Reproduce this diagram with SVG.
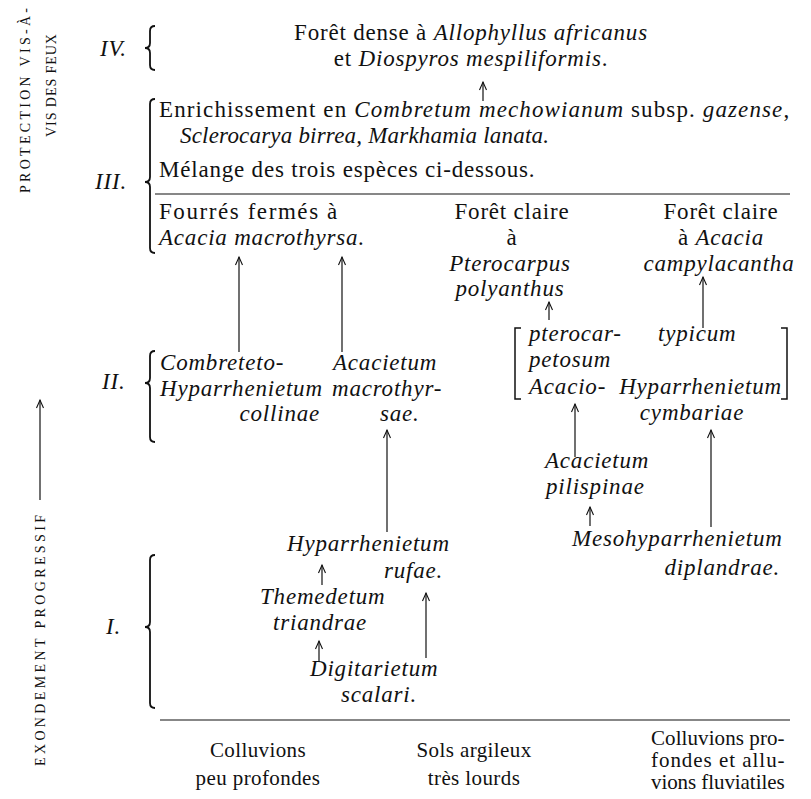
<svg xmlns="http://www.w3.org/2000/svg" width="811" height="799" viewBox="0 0 811 799">
<defs>
<style>
text{font-family:"Liberation Serif","Times New Roman",serif;font-size:23px;fill:#111111;letter-spacing:0.8px}
.i{font-style:italic}
.c{text-anchor:middle}
.e{text-anchor:end}
.side{font-size:14px;letter-spacing:1px}
.soil{font-size:21px;letter-spacing:0.4px}
.ln{stroke:#111111;stroke-width:1.2;fill:none}
.br{stroke:#111111;stroke-width:1.8;fill:none}
.bk{stroke:#111111;stroke-width:1.5;fill:none}
</style>
<marker id="ah" markerUnits="userSpaceOnUse" markerWidth="12" markerHeight="12" viewBox="-10 -6 12 12" refX="0" refY="0" orient="auto">
<path d="M-8,-3.5 L0,0 L-8,3.5" fill="none" stroke="#111111" stroke-width="1.1"/>
</marker>
</defs>
<rect width="811" height="799" fill="#ffffff"/>

<g id="side-labels">
<text class="side c" transform="translate(30,100) rotate(-90)" textLength="186" lengthAdjust="spacing">PROTECTION VIS-À-</text>
<text class="side c" transform="translate(56,85) rotate(-90)" textLength="104" lengthAdjust="spacing">VIS DES FEUX</text>
<text class="side c" transform="translate(45,640) rotate(-90)" textLength="252" lengthAdjust="spacing">EXONDEMENT PROGRESSIF</text>
</g>

<g id="levels">
<text class="i" x="100" y="56">IV.</text>
<text class="i" x="95" y="189">III.</text>
<text class="i" x="102" y="389">II.</text>
<text class="i" x="106" y="634">I.</text>
<path class="br" d="M155,26 Q150,26 150,31 L150,43 Q150,48 145,48 Q150,48 150,53 L150,65 Q150,70 155,70"/>
<path class="br" d="M155,99 Q150,99 150,104 L150,177 Q150,182 145,182 Q150,182 150,187 L150,248 Q150,253 155,253"/>
<path class="br" d="M155,351 Q150,351 150,356 L150,378 Q150,383 145,383 Q150,383 150,388 L150,437 Q150,442 155,442"/>
<path class="br" d="M155,555 Q150,555 150,560 L150,622 Q150,627 145,627 Q150,627 150,632 L150,703 Q150,708 155,708"/>
</g>

<g id="rules">
<line class="ln" x1="155" y1="194" x2="790" y2="194"/>
<line class="ln" x1="160" y1="720" x2="790" y2="720"/>
</g>

<g id="n-foret-dense">
<text class="c" x="471" y="40">Forêt dense à <tspan class="i">Allophyllus africanus</tspan></text>
<text class="c" x="471" y="66">et <tspan class="i">Diospyros mespiliformis</tspan>.</text>
</g>

<g id="n-enrichissement">
<text x="159" y="117" textLength="631" lengthAdjust="spacing">Enrichissement en <tspan class="i">Combretum mechowianum</tspan> subsp. <tspan class="i">gazense</tspan>,</text>
<text class="i" x="180" y="143" style="letter-spacing:0.2px">Sclerocarya birrea,  Markhamia lanata.</text>
<text x="159" y="177">Mélange des trois espèces ci-dessous.</text>
</g>

<g id="n-fourres">
<text x="159" y="219" textLength="179" lengthAdjust="spacing">Fourrés fermés à</text>
<text class="i" x="159" y="245">Acacia macrothyrsa.</text>
</g>

<g id="n-pterocarpus">
<text class="c" x="512" y="219">Forêt claire</text>
<text class="c" x="512" y="245">à</text>
<text class="c i" x="510" y="271">Pterocarpus</text>
<text class="c i" x="510" y="296">polyanthus</text>
</g>

<g id="n-campylacantha">
<text class="c" x="721" y="219">Forêt claire</text>
<text class="c" x="721" y="245">à <tspan class="i">Acacia</tspan></text>
<text class="c i" x="719" y="271">campylacantha</text>
</g>

<g id="n-combreteto">
<text class="i" x="160" y="370">Combreteto-</text>
<text class="i" x="160" y="396">Hyparrhenietum</text>
<text class="i e" x="320" y="421">collinae</text>
</g>

<g id="n-acacietum-macrothyrsae">
<text class="i" x="333" y="370">Acacietum</text>
<text class="i" x="332" y="396">macrothyr-</text>
<text class="i" x="380" y="421">sae.</text>
</g>

<g id="n-acacio-hyparrhenietum">
<path class="bk" d="M521,328 L515,328 L515,399 L521,399"/>
<path class="bk" d="M781,328 L787,328 L787,399 L781,399"/>
<text class="i" x="529" y="341">pterocar-</text>
<text class="i" x="529" y="367">petosum</text>
<text class="i" x="529" y="394">Acacio-</text>
<text class="i" x="658" y="341">typicum</text>
<text class="i e" x="782" y="394">Hyparrhenietum</text>
<text class="i c" x="692" y="420">cymbariae</text>
</g>

<g id="n-acacietum-pilispinae">
<text class="i" x="545" y="468">Acacietum</text>
<text class="i" x="546" y="494">pilispinae</text>
</g>

<g id="n-mesohyparrhenietum">
<text class="i" x="572" y="546">Mesohyparrhenietum</text>
<text class="i e" x="780" y="575">diplandrae.</text>
</g>

<g id="n-hyparrhenietum-rufae">
<text class="i" x="287" y="551">Hyparrhenietum</text>
<text class="i e" x="443" y="578">rufae.</text>
</g>

<g id="n-themedetum">
<text class="i" x="260" y="604">Themedetum</text>
<text class="i" x="273" y="630">triandrae</text>
</g>

<g id="n-digitarietum">
<text class="i" x="310" y="676">Digitarietum</text>
<text class="i" x="341" y="702">scalari.</text>
</g>

<g id="n-soils">
<text class="soil c" x="258" y="757">Colluvions</text>
<text class="soil c" x="258" y="785">peu profondes</text>
<text class="soil c" x="474" y="757">Sols argileux</text>
<text class="soil c" x="474" y="785">très lourds</text>
<text class="soil" x="651" y="745" textLength="134" lengthAdjust="spacing">Colluvions pro-</text>
<text class="soil" x="651" y="767" textLength="134" lengthAdjust="spacing">fondes et allu-</text>
<text class="soil" x="651" y="789" textLength="134" lengthAdjust="spacing">vions fluviatiles</text>
</g>

<g id="connectors" class="ln">
<line x1="40" y1="500" x2="40" y2="400" marker-end="url(#ah)"/>
<line x1="483" y1="101" x2="483" y2="82" marker-end="url(#ah)"/>
<line x1="239" y1="352" x2="239" y2="257" marker-end="url(#ah)"/>
<line x1="342" y1="352" x2="342" y2="257" marker-end="url(#ah)"/>
<line x1="549" y1="320" x2="549" y2="302" marker-end="url(#ah)"/>
<line x1="703" y1="328" x2="703" y2="277" marker-end="url(#ah)"/>
<line x1="575" y1="457" x2="575" y2="404" marker-end="url(#ah)"/>
<line x1="387" y1="532" x2="387" y2="430" marker-end="url(#ah)"/>
<line x1="711" y1="527" x2="711" y2="430" marker-end="url(#ah)"/>
<line x1="590" y1="526" x2="590" y2="507" marker-end="url(#ah)"/>
<line x1="322" y1="585" x2="322" y2="565" marker-end="url(#ah)"/>
<line x1="319" y1="661" x2="319" y2="641" marker-end="url(#ah)"/>
<line x1="426" y1="658" x2="426" y2="593" marker-end="url(#ah)"/>
</g>
</svg>
